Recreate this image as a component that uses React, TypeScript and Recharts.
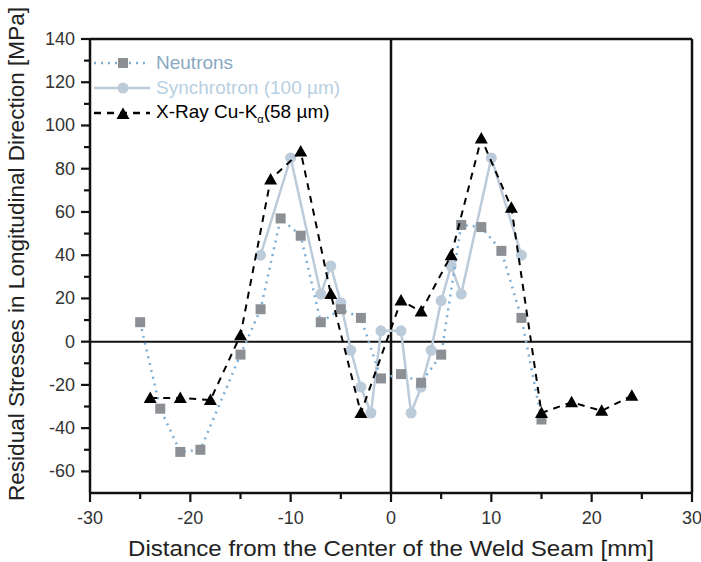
import {
  Legend,
  ReferenceLine,
  Scatter,
  ScatterChart,
  XAxis,
  YAxis,
} from "recharts";

const FONT = '"Liberation Sans", Arial, sans-serif';

// Neutrons (grey squares, dotted light blue line)
const neutronX = [-25, -23, -21, -19, -15, -13, -11, -9, -7, -5, -3, -1, 1, 3, 5, 7, 9, 11, 13, 15];
const neutronY = [9, -31, -51, -50, -6, 15, 57, 49, 9, 15, 11, -17, -15, -19, -6, 54, 53, 42, 11, -36];

// Synchrotron (100 µm)
const synchX = [-13, -10, -7, -6, -5, -4, -3, -2, -1, 1, 2, 3, 4, 5, 6, 7, 10, 13];
const synchY = [40, 85, 22, 35, 18, -4, -21, -33, 5, 5, -33, -21, -4, 19, 35, 22, 85, 40];

// X-Ray Cu-Kα (58 µm)
const xrayX = [-24, -21, -18, -15, -12, -9, -6, -3, 1, 3, 6, 9, 12, 15, 18, 21, 24];
const xrayY = [-26, -26, -27, 3, 75, 88, 22, -33, 19, 14, 40, 94, 62, -33, -28, -32, -25];

const xTicks = [-30, -25, -20, -15, -10, -5, 0, 5, 10, 15, 20, 25, 30];
const yTicks = [-60, -50, -40, -30, -20, -10, 0, 10, 20, 30, 40, 50, 60, 70, 80, 90, 100, 110, 120, 130, 140];

const zip = (xs: number[], ys: number[]) => xs.map((x, i) => ({ x, y: ys[i] }));
const neutrons = zip(neutronX, neutronY);
const synch = zip(synchX, synchY);
const xray = zip(xrayX, xrayY);

const C_NEUTRON_LINE = "#7aaed6";
const C_NEUTRON_MARK = "#8c8f94";
const C_NEUTRON_TEXT = "#8aa9c2";
const C_SYNCH = "#bccbd9";
const C_SYNCH_TEXT = "#b7cfe2";

const Square = ({ cx, cy }: any) => (
  <rect x={cx - 5} y={cy - 5} width={10} height={10} fill={C_NEUTRON_MARK} />
);
const Dot = ({ cx, cy }: any) => <circle cx={cx} cy={cy} r={5.5} fill={C_SYNCH} />;
const Tri = ({ cx, cy }: any) => (
  <path d={`M${cx},${cy - 6.5} L${cx + 6.5},${cy + 5} L${cx - 6.5},${cy + 5} Z`} fill="#000" />
);

const isMajorX = (v: number) => v % 10 === 0;
const isMajorY = (v: number) => v % 20 === 0;

const BottomTick = ({ x, y, payload }: any) => {
  const major = isMajorX(payload.value);
  return (
    <g>
      <line x1={x} y1={y} x2={x} y2={y + (major ? 9 : 6)} stroke="#111" strokeWidth={2.2} />
      {major && (
        <text x={x} y={y + 25} textAnchor="middle" dominantBaseline="central" fontSize={18} fill="#333" fontFamily={FONT}>
          {payload.value}
        </text>
      )}
    </g>
  );
};
const TopTick = ({ x, y, payload }: any) => (
  <line x1={x} y1={y} x2={x} y2={y + (isMajorX(payload.value) ? 9 : 6)} stroke="#111" strokeWidth={2.2} />
);
const LeftTick = ({ x, y, payload }: any) => {
  const major = isMajorY(payload.value);
  return (
    <g>
      <line x1={x} y1={y} x2={x - (major ? 9 : 6)} y2={y} stroke="#111" strokeWidth={2.2} />
      {major && (
        <text x={x - 15} y={y} textAnchor="end" dominantBaseline="central" fontSize={18} fill="#333" fontFamily={FONT}>
          {payload.value}
        </text>
      )}
    </g>
  );
};
const RightTick = ({ x, y, payload }: any) => (
  <line x1={x} y1={y} x2={x - (isMajorY(payload.value) ? 9 : 6)} y2={y} stroke="#111" strokeWidth={2.2} />
);

const XTitle = () => (
  <text x={391} y={548} textAnchor="middle" dominantBaseline="central" fontSize={22} fill="#222" fontFamily={FONT}
    textLength={526} lengthAdjust="spacingAndGlyphs">
    Distance from the Center of the Weld Seam [mm]
  </text>
);
const YTitle = () => (
  <text x={0} y={0} transform="translate(16,254) rotate(-90)" textAnchor="middle" dominantBaseline="central"
    fontSize={22} fill="#222" fontFamily={FONT} textLength={494} lengthAdjust="spacingAndGlyphs">
    Residual Stresses in Longitudinal Direction [MPa]
  </text>
);

const LEGEND = [
  { name: "Neutrons", text: C_NEUTRON_TEXT, line: C_NEUTRON_LINE, dash: "2 5", kind: "sq" },
  { name: "Synchrotron (100 µm)", text: C_SYNCH_TEXT, line: C_SYNCH, dash: undefined, kind: "ci" },
  { name: "X-Ray Cu-K", text: "#000", line: "#000", dash: "7 6", kind: "tr" },
];

const renderLegend = () => (
  <div style={{ fontFamily: FONT, fontSize: 19 }}>
    {LEGEND.map((l) => (
      <div key={l.name} style={{ display: "flex", alignItems: "center", height: 25 }}>
        <svg width={56} height={16}>
          <line x1={0} y1={8} x2={56} y2={8} stroke={l.line} strokeWidth={2.5} strokeDasharray={l.dash} />
          {l.kind === "sq" && <Square cx={29} cy={8} />}
          {l.kind === "ci" && <Dot cx={29} cy={8} />}
          {l.kind === "tr" && <Tri cx={29} cy={9} />}
        </svg>
        <span style={{ color: l.text, marginLeft: 6, whiteSpace: "nowrap" }}>
          {l.name}
          {l.kind === "tr" && (
            <>
              <sub style={{ fontSize: 11 }}>α</sub>(58 µm)
            </>
          )}
        </span>
      </div>
    ))}
  </div>
);

export default function App() {
  return (
    <div style={{ position: "absolute", left: 0, top: 0, width: 701, height: 562, background: "#fff" }}>
      <ScatterChart width={701} height={562} margin={{ top: 38, right: 8, bottom: 0, left: 30 }}>
        <XAxis
          type="number"
          dataKey="x"
          domain={[-30, 30]}
          ticks={xTicks}
          interval={0}
          tickSize={0}
          tickMargin={0}
          tickLine={false}
          tick={<BottomTick />}
          axisLine={{ stroke: "#111", strokeWidth: 2.5 }}
          height={69}
          label={{ content: () => <XTitle /> }}
        />
        <XAxis
          xAxisId="top"
          orientation="top"
          type="number"
          dataKey="x"
          domain={[-30, 30]}
          ticks={xTicks}
          interval={0}
          tickSize={0}
          tickMargin={0}
          tickLine={false}
          tick={<TopTick />}
          axisLine={{ stroke: "#111", strokeWidth: 2.5 }}
          height={1}
        />
        <YAxis
          type="number"
          dataKey="y"
          domain={[-70, 140]}
          ticks={yTicks}
          interval={0}
          tickSize={0}
          tickMargin={0}
          tickLine={false}
          tick={<LeftTick />}
          axisLine={{ stroke: "#111", strokeWidth: 2.5 }}
          width={60}
          label={{ content: () => <YTitle /> }}
        />
        <YAxis
          yAxisId="right"
          orientation="right"
          type="number"
          dataKey="y"
          domain={[-70, 140]}
          ticks={yTicks}
          interval={0}
          tickSize={0}
          tickMargin={0}
          tickLine={false}
          tick={<RightTick />}
          axisLine={{ stroke: "#111", strokeWidth: 2.5 }}
          width={1}
        />
        <ReferenceLine x={0} stroke="#111" strokeWidth={2.5} />
        <ReferenceLine y={0} stroke="#111" strokeWidth={2} />
        <Scatter
          name="Synchrotron (100 µm)"
          data={synch}
          fill={C_SYNCH}
          line={{ stroke: C_SYNCH, strokeWidth: 2.5 }}
          lineType="joint"
          shape={<Dot />}
          isAnimationActive={false}
        />
        <Scatter
          name="Neutrons"
          data={neutrons}
          fill={C_NEUTRON_MARK}
          line={{ stroke: C_NEUTRON_LINE, strokeWidth: 2.5, strokeDasharray: "2 5" }}
          lineType="joint"
          shape={<Square />}
          isAnimationActive={false}
        />
        <Scatter
          name="X-Ray"
          data={xray}
          fill="#000"
          line={{ stroke: "#000", strokeWidth: 2, strokeDasharray: "7 6" }}
          lineType="joint"
          shape={<Tri />}
          isAnimationActive={false}
        />
        <Legend
          layout="horizontal"
          verticalAlign="middle"
          align="center"
          content={renderLegend}
          wrapperStyle={{ position: "absolute", left: 94, top: 50, width: "auto", height: "auto" }}
        />
      </ScatterChart>
    </div>
  );
}
